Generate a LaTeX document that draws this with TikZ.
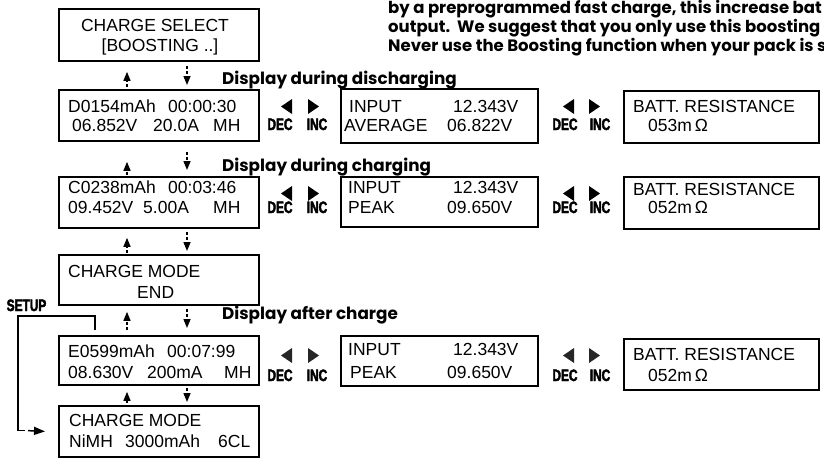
\documentclass[tikz,border=0pt]{standalone}
\usepackage{fontspec}
\setmainfont{Liberation Sans}
\newfontfamily\headfont{Poppins}
\newfontfamily\narrowfont{Liberation Sans Bold}[FakeStretch=0.72, FakeBold=2.5]
\usetikzlibrary{arrows.meta}

\tikzset{
    lcd/.style={draw, line width=1.8pt, minimum width=200pt, anchor=north west, inner sep=0pt},
    lcdtxt/.style={anchor=base west, inner sep=0pt, font=\fontsize{17.5}{20}\selectfont},
    heading/.style={anchor=base west, inner sep=0pt, font=\headfont\bfseries\fontsize{16.8}{20}\selectfont},
    note/.style={anchor=base west, inner sep=0pt, font=\headfont\bfseries\fontsize{16.5}{20}\selectfont},
    keytxt/.style={anchor=base, inner sep=0pt, font=\narrowfont\fontsize{16.5}{18}\selectfont},
    stepar/.style={line width=1.4pt, dash pattern=on 3pt off 2pt, -{Triangle[width=7pt,length=9pt]}},
    setupline/.style={line width=1.5pt}
}

\begin{document}
\begin{tikzpicture}[x=1pt, y=-1pt]
    \useasboundingbox (0,0) rectangle (824,464);
    \clip (0,0) rectangle (824,464);

    % Notes at the top, cut by the page edge
    \node[note] (note1) at (388,13) {by a preprogrammed fast charge, this increase bat};
    \node[note] (note2) at (388,32) {output.\ \ We suggest that you only use this boosting f};
    \node[note] (note3) at (388,51) {Never use the Boosting function when your pack is s};

    % Display boxes, left column
    \node[lcd, minimum height=52pt] (sel) at (58,8) {};
    \node[lcd, minimum height=51pt] (dis) at (58,89) {};
    \node[lcd, minimum height=51pt] (chg) at (58,176) {};
    \node[lcd, minimum height=50pt] (cend) at (58,254) {};
    \node[lcd, minimum height=49pt] (aft) at (58,335) {};
    \node[lcd, minimum height=51pt] (mode) at (58,405) {};

    % Readout boxes
    \node[lcd, minimum width=197pt, minimum height=54pt] (in1) at (340,88) {};
    \node[lcd, minimum width=197pt, minimum height=50pt] (in2) at (340,176) {};
    \node[lcd, minimum width=197pt, minimum height=50pt] (in3) at (340,335) {};
    \node[lcd, minimum width=195pt, minimum height=52pt] (bat1) at (623,90) {};
    \node[lcd, minimum width=195pt, minimum height=52pt] (bat2) at (623,176) {};
    \node[lcd, minimum width=195pt, minimum height=51pt] (bat3) at (623,338) {};

    % Box texts
    \node[lcdtxt, anchor=base] (sel1) at (155,31) {CHARGE SELECT};
    \node[lcdtxt, anchor=base] (sel2) at (160,51) {[BOOSTING ..]};

    \node[lcdtxt] (dis1a) at (68,112) {D0154mAh};
    \node[lcdtxt] (dis1b) at (168,112) {00:00:30};
    \node[lcdtxt] (dis2a) at (72,131) {06.852V};
    \node[lcdtxt] (dis2b) at (153,131) {20.0A};
    \node[lcdtxt] (dis2c) at (213,131) {MH};

    \node[lcdtxt] (chg1a) at (68,193) {C0238mAh};
    \node[lcdtxt] (chg1b) at (168,193) {00:03:46};
    \node[lcdtxt] (chg2a) at (68,213) {09.452V};
    \node[lcdtxt] (chg2b) at (143,213) {5.00A};
    \node[lcdtxt] (chg2c) at (213,213) {MH};

    \node[lcdtxt] (cend1) at (68,277) {CHARGE MODE};
    \node[lcdtxt] (cend2) at (137,298) {END};

    \node[lcdtxt] (aft1a) at (68,357) {E0599mAh};
    \node[lcdtxt] (aft1b) at (167,357) {00:07:99};
    \node[lcdtxt] (aft2a) at (68,378) {08.630V};
    \node[lcdtxt] (aft2b) at (147,378) {200mA};
    \node[lcdtxt] (aft2c) at (224,378) {MH};

    \node[lcdtxt] (mode1) at (69,426) {CHARGE MODE};
    \node[lcdtxt] (mode2a) at (69,447) {NiMH};
    \node[lcdtxt] (mode2b) at (125,447) {3000mAh};
    \node[lcdtxt] (mode2c) at (218,447) {6CL};

    \node[lcdtxt] (in1a) at (349,112) {INPUT};
    \node[lcdtxt] (in1b) at (453,112) {12.343V};
    \node[lcdtxt] (in1c) at (344,131) {AVERAGE};
    \node[lcdtxt] (in1d) at (447,131) {06.822V};

    \node[lcdtxt] (in2a) at (348,193) {INPUT};
    \node[lcdtxt] (in2b) at (453,193) {12.343V};
    \node[lcdtxt] (in2c) at (348,213) {PEAK};
    \node[lcdtxt] (in2d) at (447,213) {09.650V};

    \node[lcdtxt] (in3a) at (348,355) {INPUT};
    \node[lcdtxt] (in3b) at (453,355) {12.343V};
    \node[lcdtxt] (in3c) at (350,378) {PEAK};
    \node[lcdtxt] (in3d) at (447,378) {09.650V};

    \node[lcdtxt] (bat1a) at (633,112) {BATT. RESISTANCE};
    \node[lcdtxt] (bat1b) at (648,131) {053m\,Ω};
    \node[lcdtxt] (bat2a) at (633,195) {BATT. RESISTANCE};
    \node[lcdtxt] (bat2b) at (648,213) {052m\,Ω};
    \node[lcdtxt] (bat3a) at (633,360) {BATT. RESISTANCE};
    \node[lcdtxt] (bat3b) at (648,381) {052m\,Ω};

    % Headings
    \node[heading] (hdis) at (222,84) {Display during discharging};
    \node[heading] (hchg) at (222,171) {Display during charging};
    \node[heading] (haft) at (222,319) {Display after charge};

    % DEC / INC keys
    \fill (292,99) -- (281,106.5) -- (292,114) -- cycle;
    \fill (308,99) -- (319,106.5) -- (308,114) -- cycle;
    \fill (574,99) -- (563,106.5) -- (574,114) -- cycle;
    \fill (589,99) -- (600,106.5) -- (589,114) -- cycle;
    \fill (292,186) -- (281,193.5) -- (292,201) -- cycle;
    \fill (308,186) -- (319,193.5) -- (308,201) -- cycle;
    \fill (574,186) -- (563,193.5) -- (574,201) -- cycle;
    \fill (589,186) -- (600,193.5) -- (589,201) -- cycle;
    \fill[black!85] (292,348) -- (281,355.5) -- (292,363) -- cycle;
    \fill[black!85] (308,348) -- (319,355.5) -- (308,363) -- cycle;
    \fill[black!85] (574,348) -- (563,355.5) -- (574,363) -- cycle;
    \fill[black!85] (589,348) -- (600,355.5) -- (589,363) -- cycle;

    \node[keytxt] (dec1) at (280,130) {DEC};
    \node[keytxt] (inc1) at (317,130) {INC};
    \node[keytxt] (dec1r) at (565,130) {DEC};
    \node[keytxt] (inc1r) at (600,130) {INC};
    \node[keytxt] (dec2) at (280,213) {DEC};
    \node[keytxt] (inc2) at (317,213) {INC};
    \node[keytxt] (dec2r) at (565,213) {DEC};
    \node[keytxt] (inc2r) at (600,213) {INC};
    \node[keytxt] (dec3) at (280,381) {DEC};
    \node[keytxt] (inc3) at (317,381) {INC};
    \node[keytxt] (dec3r) at (565,381) {DEC};
    \node[keytxt] (inc3r) at (600,381) {INC};

    % Up and down steps between the displays
    \draw[stepar] ([xshift=69pt,yshift=2pt]dis.north west) -- ([xshift=69pt,yshift=-10pt]sel.south west);
    \draw[stepar] ([xshift=129pt,yshift=-4pt]sel.south west) -- ([xshift=129pt,yshift=4pt]dis.north west);
    \draw[stepar] ([xshift=69pt,yshift=1pt]chg.north west) -- ([xshift=69pt,yshift=-20pt]dis.south west);
    \draw[stepar] ([xshift=129pt,yshift=-10pt]dis.south west) -- ([xshift=129pt,yshift=6pt]chg.north west);
    \draw[stepar] ([xshift=69pt,yshift=1pt]cend.north west) -- ([xshift=69pt,yshift=-9pt]chg.south west);
    \draw[stepar] ([xshift=129pt,yshift=-3pt]chg.south west) -- ([xshift=129pt,yshift=3pt]cend.north west);
    \draw[stepar] ([xshift=69pt,yshift=5pt]aft.north west) -- ([xshift=69pt,yshift=-6pt]cend.south west);
    \draw[stepar] ([xshift=129pt,yshift=-3pt]cend.south west) -- ([xshift=129pt,yshift=7pt]aft.north west);
    \draw[stepar] ([xshift=69pt,yshift=2pt]mode.north west) -- ([xshift=69pt,yshift=-6pt]aft.south west);
    \draw[stepar] ([xshift=129pt,yshift=-2pt]aft.south west) -- ([xshift=129pt,yshift=3pt]mode.north west);

    % SETUP loop
    \node[keytxt] (setup) at (26.5,311) {SETUP};
    \coordinate (sub) at (25,430.5);
    \draw[setupline] ([xshift=37pt,yshift=5pt]aft.north west) |- (18,316) |- (sub);
    \draw[setupline, dash pattern=on 0pt off 3pt on 5pt, -{Triangle[width=8pt,length=11pt]}] (sub) -- ([xshift=-13pt]mode.west);
\end{tikzpicture}
\end{document}
